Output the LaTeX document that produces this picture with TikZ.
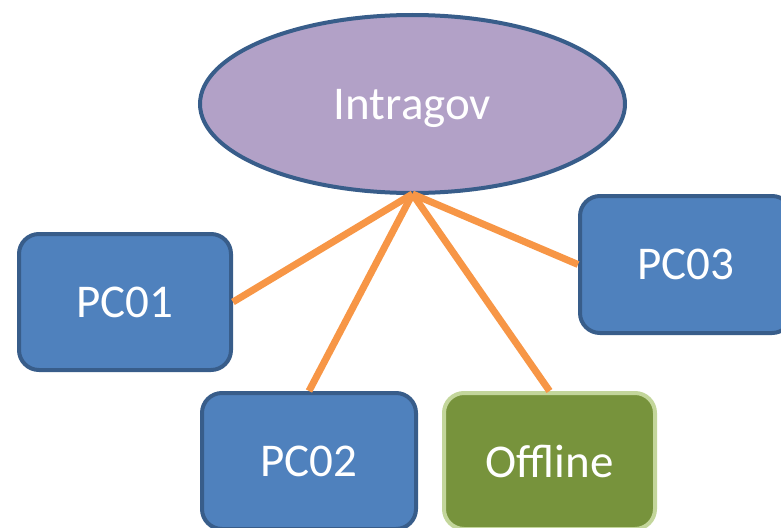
\documentclass[tikz,border=0pt]{standalone}
\usepackage{fontspec}
\setmainfont{Carlito}
\usetikzlibrary{shapes.geometric}
\definecolor{boxblue}{HTML}{4F81BD}
\definecolor{boxedge}{HTML}{385D8A}
\definecolor{ellfill}{HTML}{B2A1C7}
\definecolor{greenfill}{HTML}{77933C}
\definecolor{greenedge}{HTML}{C3D69B}
\definecolor{linkorange}{HTML}{F79646}
\begin{document}
\begin{tikzpicture}[x=1pt,y=-1pt,
  pcbox/.style={draw=boxedge, fill=boxblue, line width=4pt, rounded corners=20pt,
    minimum width=212pt, minimum height=136pt, inner sep=0pt, text=white,
    font=\fontsize{47}{50}\selectfont},
  offbox/.style={pcbox, draw=greenedge, fill=greenfill},
  link/.style={draw=linkorange, line width=7pt}]
\useasboundingbox (0,0) rectangle (781,527);
\node[ellipse, draw=boxedge, fill=ellfill, line width=4pt, minimum width=425pt,
  minimum height=178pt, inner sep=0pt, text=white,
  font=\fontsize{47}{50}\selectfont] (ell) at (412.5,104) {};
\node[text=white, font=\fontsize{47}{50}\selectfont, inner sep=0pt] (elltext) at (412.5,108) {Intragov};
\node[pcbox] (pc01) at (125,302) {PC01};
\node[pcbox, minimum width=214pt] (pc02) at (309,461) {PC02};
\node[offbox, minimum width=211pt] (off) at (549.5,461) {Offline};
\node[pcbox, minimum height=137pt] (pc03) at (686,264.5) {PC03};
\coordinate (hub) at (412.5,194);
\draw[link] (hub) -- (pc01.east);
\draw[link] (hub) -- (pc02.north);
\draw[link] (hub) -- (off.north);
\draw[link] (hub) -- (pc03.west);
\end{tikzpicture}
\end{document}
